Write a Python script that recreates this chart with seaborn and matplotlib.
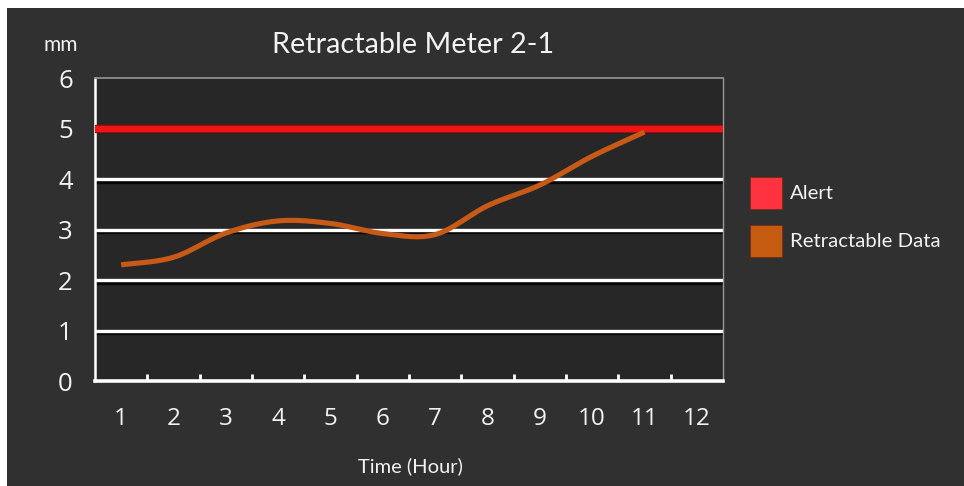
import numpy as np
import pandas as pd
import matplotlib
matplotlib.use("Agg")
import matplotlib.pyplot as plt
import matplotlib.patheffects as pe
from matplotlib.patches import Rectangle
import seaborn as sns

# ---- data -------------------------------------------------------------
hours = list(range(1, 13))
hour_labels = [str(h) for h in hours]
data_hours = [1, 2, 3, 4, 5, 6, 7, 8, 9, 10, 11]
retract_mm = [2.30, 2.45, 2.93, 3.17, 3.12, 2.92, 2.90, 3.47, 3.88, 4.45, 4.93]
alert_mm = 5.0
y_ticks = [0, 1, 2, 3, 4, 5, 6]

title = "Retractable Meter 2-1"
unit_label = "mm"
x_label = "Time (Hour)"
legend_labels = ["Alert", "Retractable Data"]

# ---- colours ----------------------------------------------------------
PANEL = "#303030"
PLOT_BG = "#272727"
ALERT = "#f01515"
ALERT_PATCH = "#ff3340"
ORANGE = "#c85a17"
ORANGE_PATCH = "#c55a11"
TEXT = "#f2f2f2"


def smooth_curve(xs, ys, steps=40):
    """Catmull-Rom path through the points (like a smoothed office chart line)."""
    xs = np.asarray(xs, float)
    ys = np.asarray(ys, float)
    px = np.concatenate([[xs[0]], xs, [xs[-1]]])
    py = np.concatenate([[ys[0]], ys, [ys[-1]]])
    out_x, out_y = [], []
    t = np.linspace(0, 1, steps, endpoint=False)
    for i in range(1, len(px) - 2):
        for arr, out in ((px, out_x), (py, out_y)):
            p0, p1, p2, p3 = arr[i - 1], arr[i], arr[i + 1], arr[i + 2]
            seg = 0.5 * ((2 * p1) + (-p0 + p2) * t
                         + (2 * p0 - 5 * p1 + 4 * p2 - p3) * t ** 2
                         + (-p0 + 3 * p1 - 3 * p2 + p3) * t ** 3)
            out.extend(seg)
    out_x.append(xs[-1])
    out_y.append(ys[-1])
    return np.array(out_x), np.array(out_y)


sns.set_style("dark")
plt.rcParams["font.family"] = ["Lato", "DejaVu Sans"]

W, H = 964, 486
fig = plt.figure(figsize=(W / 100, H / 100), dpi=100)
fig.patch.set_facecolor("white")
fig.add_artist(Rectangle((7 / W, 0), 1 - 7 / W, 1 - 8 / H, transform=fig.transFigure,
                         facecolor=PANEL, edgecolor="none", zorder=-10))

ax = fig.add_axes([95 / W, 1 - 381 / H, 628 / W, 303 / H])
ax.set_facecolor(PLOT_BG)

# horizontal guide lines with a dark drop shadow
shadow = [pe.SimpleLineShadow(offset=(0, -2), shadow_color="black", alpha=0.8), pe.Normal()]
for yv in y_ticks[1:-1]:
    ax.axhline(yv, color="white", lw=2.4, zorder=1, path_effects=shadow)

# alert threshold
alert_df = pd.DataFrame({"hour": [0.5, 12.5], "mm": [alert_mm, alert_mm]})
sns.lineplot(data=alert_df, x="hour", y="mm", ax=ax, color=ALERT, lw=4.6, zorder=3,
             path_effects=[pe.Stroke(linewidth=6.0, foreground="#8c0c0c"), pe.Normal()])

# measured retraction, smoothed
sx, sy = smooth_curve(data_hours, retract_mm)
curve_df = pd.DataFrame({"hour": sx, "mm": sy})
sns.lineplot(data=curve_df, x="hour", y="mm", ax=ax, color=ORANGE, lw=3.7,
             sort=False, estimator=None, zorder=4, solid_capstyle="butt")

ax.set_xlim(0.5, 12.5)
ax.set_ylim(0, 6)
ax.set_xlabel("")
ax.set_ylabel("")

ax.set_xticks(hours)
ax.set_xticklabels(hour_labels, family=["Open Sans", "DejaVu Sans"], fontsize=17.5, color=TEXT)
ax.set_xticks([h + 0.5 for h in hours[:-1]], minor=True)
ax.tick_params(axis="x", which="major", bottom=True, length=0, pad=19)
ax.tick_params(axis="x", which="minor", bottom=True, direction="in", length=5, width=2,
               color="white")
ax.set_yticks(y_ticks)
ax.set_yticklabels([str(v) for v in y_ticks], family=["Open Sans", "DejaVu Sans"],
                   fontsize=18.5, color=TEXT)
ax.tick_params(axis="y", length=0, pad=16)
ax.grid(False)

for side, col, lw in (("left", "white", 1.8), ("bottom", "white", 2.6),
                      ("top", "#8d8d8d", 1.3), ("right", "#9a9a9a", 1.0)):
    ax.spines[side].set_visible(True)
    ax.spines[side].set_color(col)
    ax.spines[side].set_linewidth(lw)
ax.spines["bottom"].set_zorder(6)

# titles and labels
fig.text(413 / W, 1 - 45 / H, title, ha="center", va="center", fontsize=20.8, color=TEXT)
fig.text(61 / W, 1 - 45 / H, unit_label, ha="center", va="center", fontsize=15, color=TEXT)
fig.text(410 / W, 1 - 466 / H, x_label, ha="center", va="center", fontsize=14.5, color=TEXT)

# legend
for (y0, fc, lab) in ((177, ALERT_PATCH, legend_labels[0]), (225, ORANGE_PATCH, legend_labels[1])):
    fig.add_artist(Rectangle((750 / W, 1 - (y0 + 32) / H), 32 / W, 32 / H,
                             transform=fig.transFigure, facecolor=fc,
                             edgecolor="#7a2a10", lw=0.6))
    fig.text(790 / W, 1 - (y0 + 16) / H, lab, ha="left", va="center", fontsize=14.7, color=TEXT)

fig.savefig("out.png", dpi=100, facecolor=fig.get_facecolor())
